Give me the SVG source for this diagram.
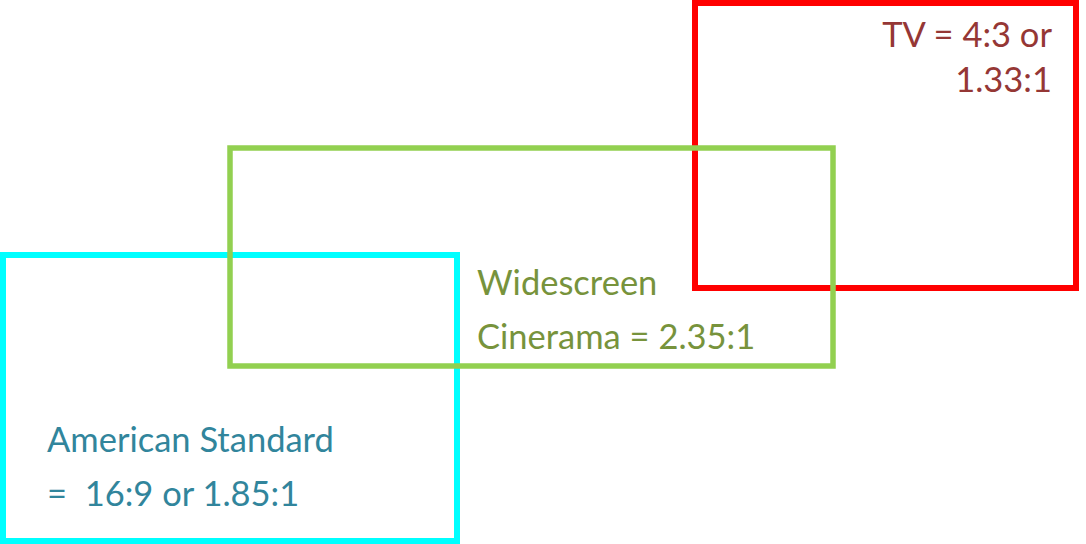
<svg xmlns="http://www.w3.org/2000/svg" width="1086" height="544" viewBox="0 0 1086 544">
<style>
.box{fill:none}
.t{font-family:Lato,"Open Sans","Liberation Sans",sans-serif;font-size:34.5px;white-space:pre}
</style>
<rect width="1086" height="544" fill="#fff"/>
<g id="tv">
<rect class="box" x="695" y="3" width="381" height="285" stroke="#FF0000" stroke-width="6"/>
<text class="t" fill="#953735" text-anchor="end"><tspan x="1052" y="47">TV = 4:3 or</tspan><tspan x="1052" y="92">1.33:1</tspan></text>
</g>
<g id="american">
<rect class="box" x="3" y="255" width="454" height="286" stroke="#00FFFF" stroke-width="6"/>
<text class="t" fill="#31859C"><tspan x="47" y="452">American Standard</tspan><tspan x="47" y="506">=  16:9 or 1.85:1</tspan></text>
</g>
<g id="widescreen">
<rect class="box" x="230" y="148" width="603" height="218" stroke="#92D050" stroke-width="5.5"/>
<text class="t" fill="#77933C"><tspan x="477" y="295">Widescreen</tspan><tspan x="477" y="349">Cinerama = 2.35:1</tspan></text>
</g>
<g id="connectors"/>
</svg>
